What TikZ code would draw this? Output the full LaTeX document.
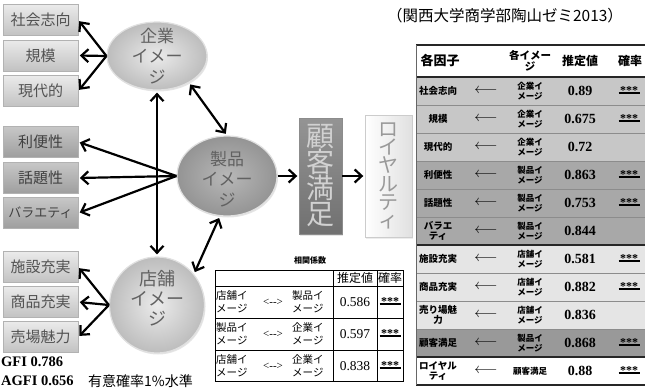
\documentclass[tikz,border=0pt]{standalone}
\usepackage{fontspec}
\setmainfont{Liberation Serif}
\newfontfamily\jp{Noto Sans CJK JP}
\usetikzlibrary{arrows.meta,shapes.geometric,shadows}
\newcommand\fsz[2]{\fontsize{#1}{#2}\selectfont}
\newcommand\ulst{\setbox0\hbox{***}\rlap{\kern-1.5pt\rule[1.2pt]{\dimexpr\wd0+3pt\relax}{1.7pt}}\box0}
\begin{document}
\begin{tikzpicture}[x=1pt,y=-1pt,
  >={Straight Barb[length=7pt,width=13pt]},
  boxA/.style={rectangle,minimum width=75pt,minimum height=31pt,inner sep=0pt,draw=black!30,line width=0.6pt,top color=black!8,bottom color=black!24,text=black!68,font=\jp\fsz{15}{15}},
  boxB/.style={boxA,top color=black!22,bottom color=black!38,text=black!75},
  ellA/.style={ellipse,inner sep=0pt,draw=black!12,line width=1.2pt,inner color=black!8,outer color=black!26,drop shadow={opacity=0.2,shadow xshift=1pt,shadow yshift=-1.5pt}},
  ellB/.style={ellA,inner color=black!28,outer color=black!42},
  etxt/.style={text=black!62,font=\jp\fsz{17}{20.5},align=center,inner sep=0pt},
  sarr/.style={line width=2.2pt,->,shorten >=1.5pt},
  darr/.style={line width=2.2pt,<->,shorten >=2pt,shorten <=2pt},
  rfac/.style={font=\jp\bfseries\fsz{9.5}{10.5},align=center,inner sep=0pt},
  rimg/.style={font=\jp\bfseries\fsz{8.5}{9.5},align=center,inner sep=0pt},
  rval/.style={font=\bfseries\fsz{14}{14},inner sep=0pt},
  rstar/.style={font=\bfseries\fsz{12}{12},inner sep=0pt},
  rarr/.style={font=\fsz{14}{14},inner sep=0pt},
  ctl/.style={font=\jp\fsz{10.5}{12.5},align=left,inner sep=0pt,anchor=west},
  ctv/.style={font=\fsz{13.5}{13.5},inner sep=0pt},
  rule/.style={draw=black!45,line width=0.7pt},
  drule/.style={draw=black!85,line width=1.1pt}
]
\fill[white] (0,0) rectangle (647,388);
\useasboundingbox (0,0) rectangle (647,388);

% caption
\node[font=\jp\fsz{15.5}{15.5},inner sep=0pt] (cap) at (505,16) {（関西大学商学部陶山ゼミ2013）};

% left boxes
\node[boxA] (b1) at (40.5,20) {社会志向};
\node[boxA] (b2) at (40.5,55.5) {規模};
\node[boxA] (b3) at (40.5,91) {現代的};
\node[boxB] (b4) at (40.5,142) {利便性};
\node[boxB] (b5) at (40.5,178) {話題性};
\node[boxB,font=\jp\fsz{13}{13}] (b6) at (40.5,213) {バラエティ};
\node[boxA] (b7) at (40.5,267) {施設充実};
\node[boxA] (b8) at (40.5,302) {商品充実};
\node[boxA] (b9) at (40.5,337) {売場魅力};

% ellipses
\node[ellA,minimum width=100pt,minimum height=68pt,label={[etxt,name=kigyoT]center:{企業\\イメー\\ジ}}] (kigyo) at (157,56) {};
\node[ellB,minimum width=100pt,minimum height=80pt,label={[etxt,name=seihinT,yshift=-3pt]center:{製品\\イメー\\ジ}}] (seihin) at (227,176) {};
\node[ellA,minimum width=95pt,minimum height=96pt,label={[etxt,name=tenpoT,yshift=7pt,font=\jp\fsz{18}{20}]center:{店舗\\イメー\\ジ}}] (tenpo) at (157,305) {};

% satisfaction and loyalty
\node[rectangle,minimum width=43pt,minimum height=116pt,inner sep=0pt,top color=black!42,bottom color=black!56,draw=black!45,text=black!18,font=\jp\fsz{28}{26},align=center,drop shadow={opacity=0.2,shadow xshift=1pt,shadow yshift=-1.5pt}] (cs) at (320.5,176) {顧\\客\\満\\足};
\node[rectangle,minimum width=47pt,minimum height=122pt,inner sep=0pt,left color=white,right color=black!12,draw=black!20,text=black!40,font=\jp\fsz{20}{18.3},align=center,drop shadow={opacity=0.15,shadow xshift=1pt,shadow yshift=-1.5pt}] (loy) at (388.5,176) {ロ\\イ\\ヤ\\ル\\テ\\ィ};

% connectors
\foreach \b in {b1,b2,b3} \draw[sarr] (kigyo.west) -- (\b.east);
\foreach \b in {b4,b5,b6} \draw[sarr] (seihin.west) -- (\b.east);
\foreach \b in {b7,b8,b9} \draw[sarr] (tenpo.west) -- (\b.east);
\draw[darr] (kigyo.south) -- (tenpo.north);
\draw[darr] (kigyo.-40) -- (seihin.north);
\draw[darr] (seihin.-100) -- (tenpo.40);
\draw[sarr] (seihin.east) -- (cs.west);
\draw[sarr] (cs.east) -- (loy.west);

% correlation table
\node[font=\jp\bfseries\fsz{8}{8},inner sep=0pt] (ctt) at (310,260) {相関係数};
\draw[line width=0.8pt] (215,270) rectangle (403,381);
\draw[line width=0.8pt] (215,286) -- (403,286) (215,318) -- (403,318) (215,350) -- (403,350)
  (333,270) -- (333,381) (377,270) -- (377,381);
\node[font=\jp\fsz{12}{12},inner sep=0pt] (cth1) at (355,278) {推定値};
\node[font=\jp\fsz{12}{12},inner sep=0pt] (cth2) at (390,278) {確率};
\foreach \xa/\xb/\xv [count=\r from 0] in {店舗/製品/0.586,製品/企業/0.597,店舗/企業/0.838}{
  \pgfmathsetmacro\yc{302+32*\r}
  \node[ctl] (cta\r) at (216,\yc) {\xa イ\\メージ};
  \node[ctv,font=\fsz{11}{11}] (ctm\r) at (273,\yc) {<-{}->};
  \node[ctl] (ctb\r) at (292,\yc) {\xb イ\\メージ};
  \node[ctv] (ctv\r) at (355,\yc) {\xv};
  \node[rstar] (cts\r) at (390,\yc) {\ulst};
}

% fit indices
\node[font=\bfseries\fsz{14.5}{14.5},inner sep=0pt,anchor=west] (gfi) at (1,362) {GFI 0.786};
\node[font=\bfseries\fsz{14.5}{14.5},inner sep=0pt,anchor=west] (agfi) at (1,381) {AGFI 0.656};
\node[font=\jp\fsz{14}{14},inner sep=0pt,anchor=west] (sig) at (88,381) {有意確率1\%水準};

% right table
\foreach \fac/\img/\val/\st/\col [count=\i from 0] in {
  {社会志向}/{企業イ\\メージ}/0.89/1/black!22,
  {規模}/{企業イ\\メージ}/0.675/1/black!22,
  {現代的}/{企業イ\\メージ}/0.72/0/black!22,
  {利便性}/{製品イ\\メージ}/0.863/1/black!34,
  {話題性}/{製品イ\\メージ}/0.753/1/black!34,
  {バラエ\\ティ}/{製品イ\\メージ}/0.844/0/black!34,
  {施設充実}/{店舗イ\\メージ}/0.581/1/black!10,
  {商品充実}/{店舗イ\\メージ}/0.882/1/black!10,
  {売り場魅\\力}/{店舗イ\\メージ}/0.836/0/black!10,
  {顧客満足}/{製品イ\\メージ}/0.868/1/black!40,
  {ロイヤル\\ティ}/{顧客満足}/0.88/1/white}{
  \pgfmathsetmacro\yt{77+28*\i}
  \pgfmathsetmacro\yc{91+28*\i}
  \fill[\col] (416,\yt) rectangle (645,\yt+28);
  \node[rfac] (rf\i) at (438,\yc) {\fac};
  \node[rarr] (ra\i) at (486,\yc) {$\longleftarrow$};
  \node[rimg] (ri\i) at (530,\yc) {\img};
  \node[rval] (rv\i) at (580,\yc) {\val};
  \ifnum\st=1 \node[rstar] (rs\i) at (629,\yc) {\ulst}; \fi
}
\foreach \y in {105,133,161,189,217,273,301,329}
  \draw[rule] (416,\y) -- (645,\y);
\draw[drule] (416,45) -- (645,45) (416,77) -- (645,77) (416,245) -- (645,245) (416,357) -- (645,357) (416,385) -- (645,385);
\draw[draw=black!60,line width=1.6pt] (416.5,45) -- (416.5,385);
\node[font=\jp\bfseries\fsz{13}{13},inner sep=0pt] (rh1) at (440,61) {各因子};
\node[font=\jp\bfseries\fsz{10.5}{11},align=center,inner sep=0pt] (rh2) at (530,61) {各イメー\\ジ};
\node[font=\jp\bfseries\fsz{12}{12},inner sep=0pt] (rh3) at (580,61) {推定値};
\node[font=\jp\bfseries\fsz{12}{12},inner sep=0pt] (rh4) at (630,61) {確率};
\end{tikzpicture}
\end{document}
